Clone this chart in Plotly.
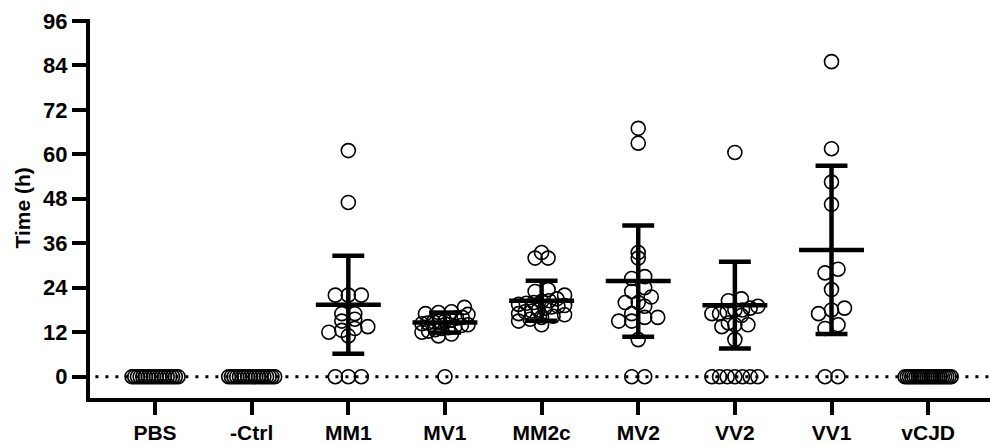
import plotly.graph_objects as go
import numpy as np

categories = ["PBS", "-Ctrl", "MM1", "MV1", "MM2c", "MV2", "VV2", "VV1", "vCJD"]

pbs = [0] * 18
neg_ctrl = [0] * 18
mm1 = [61, 47, 22, 22, 22, 17, 17, 15.5, 15, 13.5, 13, 12.5, 12, 11, 0, 0, 0]
mv1 = [18.7, 17.5, 17.3, 17, 16.8, 16, 15.8, 15.3, 15, 15, 14.8, 14.5, 14.3, 14,
       13.8, 13.5, 13.2, 13, 12.7, 12.3, 12, 11.5, 11, 0]
mm2c = [33.5, 32, 32, 23.5, 23, 22, 21, 20.5, 20.3, 20, 19.8, 19.5, 19.2, 19, 18.8,
        18.5, 18, 17.7, 17.5, 17, 16.7, 16.3, 16, 15.5, 15, 14]
mv2 = [67, 63, 33.5, 32, 27, 26.5, 24, 23, 21.5, 20, 20, 19, 17, 16, 16, 15, 15, 10, 0, 0]
vv2 = [60.5, 21, 20.5, 19, 18.5, 18, 18, 17.5, 17, 17, 16.5, 14.5, 14, 14, 13.5, 10,
       0, 0, 0, 0, 0, 0, 0]
vv1 = [85, 61.5, 52.5, 46.5, 29, 28, 23.5, 18.5, 18, 17, 14, 13, 0, 0]
vcjd = [0] * 22

groups = [pbs, neg_ctrl, mm1, mv1, mm2c, mv2, vv2, vv1, vcjd]

# mean and SD (None = not drawn)
means = [None, None, 19.4, 14.6, 20.5, 25.8, 19.3, 34.2, None]
sds = [None, None, 13.2, 2.7, 5.4, 15.0, 11.7, 22.7, None]

y_ticks = [0, 12, 24, 36, 48, 60, 72, 84, 96]
y_title = "Time (h)"

# ---- layout constants ----
W, H = 990, 446
ML, MR, MT, MB = 90, 0, 19, 48
XR = [-0.673, 8.64]
YR = [-5.75, 96.5]
px_per_x = (W - ML - MR) / (XR[1] - XR[0])

# row-based scatter spreading (GraphPad-like)
ROW_H = 2.6        # data units per row
SPACING = 13.0     # px between neighbours in a row
MAX_SPAN = 46.0    # px max span of a row


def spread(values):
    vals = np.array(values, dtype=float)
    rows = {}
    for idx, v in enumerate(vals):
        rows.setdefault(int(round(v / ROW_H)), []).append(idx)
    offs = np.zeros(len(vals))
    for key, members in rows.items():
        k = len(members)
        if k == 1:
            continue
        s = min(SPACING, MAX_SPAN / (k - 1))
        members = sorted(members, key=lambda i: vals[i])
        for j, i in enumerate(members):
            offs[i] = (j - (k - 1) / 2) * s
    return offs / px_per_x


fig = go.Figure()

# dotted zero line
fig.add_shape(type="line", xref="paper", yref="y", x0=0.006, x1=1, y0=0, y1=0,
              line=dict(color="black", width=3, dash="3px,7px"), layer="below")

xs, ys = [], []
for gi, vals in enumerate(groups):
    offs = spread(vals)
    xs.extend(list(gi + offs))
    ys.extend(vals)

fig.add_trace(go.Scatter(
    x=xs, y=ys, mode="markers",
    marker=dict(symbol="circle-open", size=14, color="black", line=dict(width=1.6)),
    showlegend=False, hoverinfo="skip"))

MEAN_HALF = 0.336
CAP_HALF = 0.165
lx, ly = [], []
for gi, (m, s) in enumerate(zip(means, sds)):
    if m is None:
        continue
    lx += [gi - MEAN_HALF, gi + MEAN_HALF, None]
    ly += [m, m, None]
    lx += [gi, gi, None]
    ly += [m - s, m + s, None]
    lx += [gi - CAP_HALF, gi + CAP_HALF, None]
    ly += [m + s, m + s, None]
    lx += [gi - CAP_HALF, gi + CAP_HALF, None]
    ly += [m - s, m - s, None]

fig.add_trace(go.Scatter(x=lx, y=ly, mode="lines",
                         line=dict(color="black", width=4.5),
                         showlegend=False, hoverinfo="skip"))

font_family = "Liberation Sans, Arial, sans-serif"

fig.add_annotation(text=y_title, xref="paper", yref="paper", x=0, y=0.5,
                   xanchor="center", yanchor="middle", xshift=-68, textangle=-90,
                   showarrow=False,
                   font=dict(size=21, family=font_family, weight="bold", color="black"))

fig.update_layout(
    width=W, height=H,
    margin=dict(l=ML, r=MR, t=MT, b=MB, autoexpand=False),
    paper_bgcolor="white", plot_bgcolor="white",
    font=dict(family=font_family, color="black"),
    xaxis=dict(range=XR, tickmode="array", tickvals=list(range(len(categories))),
               ticktext=categories, showgrid=False, zeroline=False, automargin=False,
               showline=True, linecolor="black", linewidth=4,
               ticks="outside", ticklen=13, tickwidth=3.5, tickcolor="black",
               tickfont=dict(size=21, family=font_family, weight="bold")),
    yaxis=dict(range=YR, tickmode="array", tickvals=y_ticks, automargin=False,
               ticktext=[str(t) for t in y_ticks], showgrid=False, zeroline=False,
               showline=True, linecolor="black", linewidth=4,
               ticks="outside", ticklen=14, tickwidth=3.5, tickcolor="black",
               tickfont=dict(size=22, family=font_family, weight="bold")),
)

fig.write_html("out.html", config={"displayModeBar": False},
               post_script="document.body.style.margin='0';document.body.style.overflow='hidden';")
